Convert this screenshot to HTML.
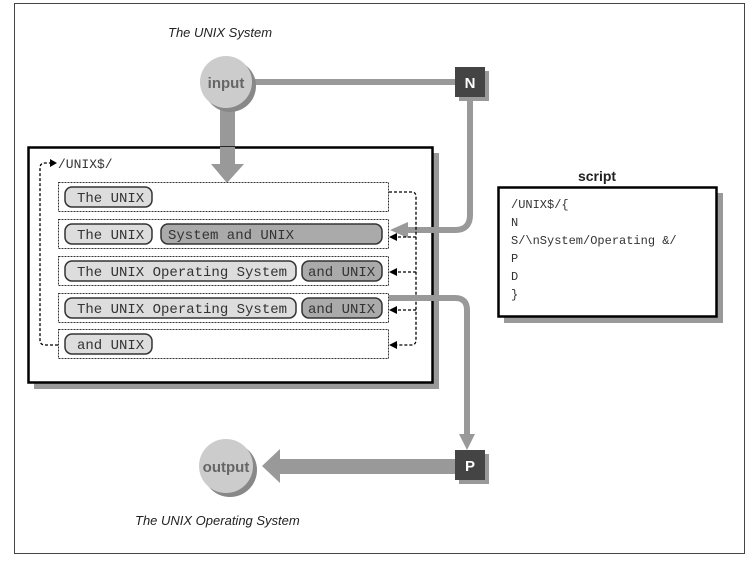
<!DOCTYPE html>
<html><head><style>
body{margin:0;background:#fff;}
.s{font-family:"Liberation Sans",sans-serif;}
.m text,text.m{font-family:"Liberation Mono",monospace;font-size:14px;fill:#333;}
</style></head><body>
<svg width="750" height="557" viewBox="0 0 750 557" xmlns="http://www.w3.org/2000/svg">
<rect x="14.5" y="3.5" width="730" height="550" fill="#fff" stroke="#444" stroke-width="1"/>
<text class="s" x="168" y="37" font-size="13" font-style="italic" fill="#222">The UNIX System</text>
<line x1="240" y1="82" x2="458" y2="82" stroke="#999" stroke-width="6"/>
<rect x="220" y="100" width="15" height="66" fill="#999"/>
<rect x="34" y="153" width="405" height="236" fill="#999"/>
<rect x="28.5" y="147.5" width="404" height="235" fill="#fff" stroke="#000" stroke-width="2.5"/>
<rect x="220" y="147" width="15" height="18" fill="#999"/>
<path d="M211,164 L244,164 L227,183z" fill="#999"/>
<path d="M470,96 L470,215 Q470,230 455,230 L405,230" fill="none" stroke="#999" stroke-width="6"/>
<path d="M390,230 L408,222 L408,238z" fill="#999"/>
<circle cx="230" cy="86" r="26" fill="#888"/>
<circle cx="226" cy="82" r="26" fill="#ccc"/>
<text class="s" x="226" y="88" font-size="15" font-weight="bold" fill="#666" text-anchor="middle">input</text>
<rect x="459" y="71" width="30" height="30" fill="#999"/>
<rect x="455" y="67" width="30" height="30" fill="#444"/>
<text class="s" x="470" y="88" font-size="15" font-weight="bold" fill="#fff" text-anchor="middle">N</text>
<text x="58" y="168" class="m" style="font-size:13px">/UNIX$/</text>
<path d="M58,345 L45,345 Q40,345 40,340 L40,168 Q40,163 45,163 L52,163" fill="none" stroke="#000" stroke-width="1.3" stroke-dasharray="3,2"/>
<path d="M57,163 L50,159 L50,167z" fill="#000"/>
<g fill="#fff" stroke="#333" stroke-width="1" stroke-dasharray="2,1">
<rect x="58.5" y="182.5" width="330" height="29"/>
<rect x="58.5" y="219.5" width="330" height="29"/>
<rect x="58.5" y="256.5" width="330" height="29"/>
<rect x="58.5" y="293.5" width="330" height="29"/>
<rect x="58.5" y="329.5" width="330" height="29"/>
</g>
<path d="M389,192 L412,192 Q416,192 416,197 L416,340 Q416,345 411,345 L396,345 M416,237 L396,237 M416,272 L396,272 M416,310 L396,310" fill="none" stroke="#000" stroke-width="1.3" stroke-dasharray="3,2"/>
<g fill="#000"><path d="M389,237 L397,233 L397,241z"/><path d="M389,272 L397,268 L397,276z"/><path d="M389,310 L397,306 L397,314z"/><path d="M389,345 L397,341 L397,349z"/></g>
<g stroke="#333" stroke-width="1.5">
<rect x="65" y="187" width="87" height="20" rx="7" fill="#ddd"/>
<rect x="65" y="224" width="87" height="20" rx="7" fill="#ddd"/>
<rect x="161" y="224" width="221" height="20" rx="7" fill="#aaa"/>
<rect x="65" y="261" width="231" height="20" rx="7" fill="#ddd"/>
<rect x="302" y="261" width="80" height="20" rx="7" fill="#aaa"/>
<rect x="65" y="298" width="231" height="20" rx="7" fill="#ddd"/>
<rect x="302" y="298" width="80" height="20" rx="7" fill="#aaa"/>
<rect x="65" y="334" width="87" height="20" rx="7" fill="#ddd"/>
</g>
<g class="m">
<text x="77" y="202">The UNIX</text>
<text x="77" y="239">The UNIX</text>
<text x="168" y="239">System and UNIX</text>
<text x="77" y="276">The UNIX Operating System</text>
<text x="308" y="276">and UNIX</text>
<text x="77" y="313">The UNIX Operating System</text>
<text x="308" y="313">and UNIX</text>
<text x="77" y="349">and UNIX</text>
</g>
<path d="M389,298 L455,298 Q467,298 467,310 L467,437" fill="none" stroke="#999" stroke-width="6"/>
<path d="M459,434 L475,434 L467,450z" fill="#999"/>
<rect x="459" y="454" width="30" height="30" fill="#999"/>
<rect x="455" y="450" width="30" height="30" fill="#444"/>
<text class="s" x="470" y="471" font-size="15" font-weight="bold" fill="#fff" text-anchor="middle">P</text>
<rect x="278" y="459" width="177" height="15" fill="#999"/>
<path d="M262,466 L280,449 L280,483z" fill="#999"/>
<circle cx="230" cy="470" r="27" fill="#888"/>
<circle cx="226" cy="466" r="27" fill="#ccc"/>
<text class="s" x="226" y="472" font-size="15" font-weight="bold" fill="#666" text-anchor="middle">output</text>
<text class="s" x="135" y="525" font-size="13" font-style="italic" fill="#222">The UNIX Operating System</text>
<text class="s" x="597" y="181" font-size="14" font-weight="bold" fill="#222" text-anchor="middle">script</text>
<rect x="504" y="193" width="219" height="130" fill="#999"/>
<rect x="498.5" y="187.5" width="218" height="129" fill="#fff" stroke="#000" stroke-width="2.5"/>
<g class="m">
<text x="511" y="208" style="font-size:12px">/UNIX$/{</text>
<text x="511" y="226" style="font-size:12px">N</text>
<text x="511" y="244" style="font-size:12px">S/\nSystem/Operating &amp;/</text>
<text x="511" y="262" style="font-size:12px">P</text>
<text x="511" y="280" style="font-size:12px">D</text>
<text x="511" y="298" style="font-size:12px">}</text>
</g>
</svg>
</body></html>
